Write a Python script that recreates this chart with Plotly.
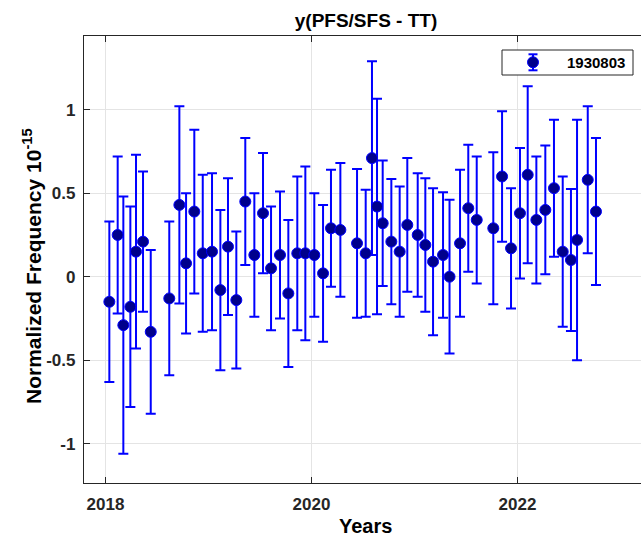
import plotly.graph_objects as go

# Observation epochs (decimal years)
epochs = [
    2018.037, 2018.118, 2018.173, 2018.241, 2018.296, 2018.364, 2018.439, 2018.619,
    2018.717, 2018.782, 2018.862, 2018.944, 2019.034, 2019.115, 2019.189, 2019.270,
    2019.357, 2019.445, 2019.529, 2019.607, 2019.694, 2019.775, 2019.862, 2019.940,
    2020.027, 2020.112, 2020.189, 2020.280, 2020.442, 2020.526, 2020.587, 2020.636,
    2020.691, 2020.775, 2020.856, 2020.930, 2021.031, 2021.105, 2021.180, 2021.277,
    2021.340, 2021.442, 2021.522, 2021.604, 2021.765, 2021.850, 2021.937, 2022.024,
    2022.099, 2022.183, 2022.270, 2022.354, 2022.439, 2022.519, 2022.578, 2022.682,
    2022.762,
]

# Normalized frequency offset y (units of 1e-15)
freq = [
    -0.15, 0.25, -0.29, -0.18, 0.15, 0.21, -0.33, -0.13,
    0.43, 0.08, 0.39, 0.14, 0.15, -0.08, 0.18, -0.14,
    0.45, 0.13, 0.38, 0.05, 0.13, -0.10, 0.14, 0.14,
    0.13, 0.02, 0.29, 0.28, 0.20, 0.14, 0.71, 0.42,
    0.32, 0.21, 0.15, 0.31, 0.25, 0.19, 0.09, 0.13,
    0.00, 0.20, 0.41, 0.34, 0.29, 0.60, 0.17, 0.38,
    0.61, 0.34, 0.40, 0.53, 0.15, 0.10, 0.22, 0.58,
    0.39,
]

# 1-sigma uncertainties
sigma = [
    0.48, 0.47, 0.77, 0.60, 0.58, 0.42, 0.49, 0.46,
    0.59, 0.42, 0.49, 0.47, 0.47, 0.48, 0.41, 0.41,
    0.38, 0.37, 0.36, 0.37, 0.38, 0.44, 0.46, 0.52,
    0.37, 0.41, 0.35, 0.40, 0.445, 0.38, 0.58, 0.645,
    0.375, 0.375, 0.39, 0.40, 0.37, 0.40, 0.44, 0.375,
    0.46, 0.44, 0.38, 0.38, 0.455, 0.39, 0.36, 0.39,
    0.53, 0.38, 0.385, 0.41, 0.45, 0.425, 0.72, 0.44,
    0.44,
]

series_name = "1930803"
x_tick_vals = [2018, 2020, 2022]
x_tick_text = ["2018", "2020", "2022"]
y_tick_vals = [-1, -0.5, 0, 0.5, 1]
y_tick_text = ["-1", "-0.5", "0", "0.5", "1"]

W, H = 641, 537
L, R, T, B = 84, 0, 36, 54
pw, ph = W - L - R, H - T - B


def px_x(p):
    return (p - L) / pw


def px_y(p):
    return (H - B - p) / ph


FONT = "Liberation Sans, Arial, sans-serif"
INK = "#262626"
BLUE = "#0000ff"
NAVY = "#00008c"

fig = go.Figure()
fig.add_trace(go.Scatter(
    x=epochs, y=freq, mode="markers", name=series_name,
    marker=dict(size=11, color=NAVY, line=dict(color=BLUE, width=1)),
    error_y=dict(type="data", array=sigma, visible=True,
                 color=BLUE, thickness=2, width=5),
))

axis_common = dict(
    showline=True, linecolor=INK, linewidth=1.3,
    showgrid=True, gridcolor="#e4e4e4", gridwidth=1,
    zeroline=False, ticks="inside", ticklen=6, tickcolor=INK,
    tickfont=dict(family=FONT, size=17, color=INK, weight="bold"),
)

fig.update_xaxes(
    range=[2017.791, 2023.199], tickmode="array",
    tickvals=x_tick_vals, ticktext=x_tick_text,
    mirror="ticks", ticklabelstandoff=5, **axis_common,
)
fig.update_yaxes(
    range=[-1.235, 1.441], tickmode="array",
    tickvals=y_tick_vals, ticktext=y_tick_text,
    mirror=False, ticklabelstandoff=4, **axis_common,
)

# legend frame and the error-bar glyph through the legend marker
lx, ly = px_x(533), px_y(62.3)
shapes = [
    dict(type="rect", xref="paper", yref="paper",
         x0=px_x(502), x1=px_x(633), y0=px_y(75), y1=px_y(50),
         line=dict(color=INK, width=1), fillcolor="white", layer="above"),
    dict(type="line", xref="paper", yref="paper", xsizemode="pixel", ysizemode="pixel",
         xanchor=lx, yanchor=ly, x0=0, x1=0, y0=-8, y1=8,
         line=dict(color=BLUE, width=2), layer="above"),
    dict(type="line", xref="paper", yref="paper", xsizemode="pixel", ysizemode="pixel",
         xanchor=lx, yanchor=ly, x0=-4.5, x1=4.5, y0=8, y1=8,
         line=dict(color=BLUE, width=2), layer="above"),
    dict(type="line", xref="paper", yref="paper", xsizemode="pixel", ysizemode="pixel",
         xanchor=lx, yanchor=ly, x0=-4.5, x1=4.5, y0=-8, y1=-8,
         line=dict(color=BLUE, width=2), layer="above"),
]

annotations = [
    dict(text="<b>Years</b>", xref="paper", yref="paper",
         x=px_x(366), y=px_y(526), xanchor="center", yanchor="middle",
         showarrow=False, font=dict(family=FONT, size=20, color="#000000")),
    dict(text="<b>Normalized Frequency 10<sup>-15</sup></b>", xref="paper", yref="paper",
         x=px_x(32), y=px_y(266), xanchor="center", yanchor="middle", textangle=-90,
         showarrow=False, font=dict(family=FONT, size=21, color="#000000")),
]

fig.update_layout(
    width=W, height=H,
    margin=dict(l=L, r=R, t=T, b=B, pad=0),
    paper_bgcolor="white", plot_bgcolor="white",
    title=dict(text="<b>y(PFS/SFS - TT)</b>", x=366 / W, xref="container", xanchor="center",
               y=1 - 20 / H, yref="container", yanchor="middle",
               font=dict(family=FONT, size=19, color="#000000")),
    showlegend=True,
    legend=dict(x=px_x(499), y=px_y(46), xanchor="left", yanchor="top",
                bgcolor="rgba(0,0,0,0)", borderwidth=0, itemwidth=58,
                font=dict(family=FONT, size=15, color="#000000", weight="bold")),
    shapes=shapes, annotations=annotations,
)

fig.write_html("out.html")
